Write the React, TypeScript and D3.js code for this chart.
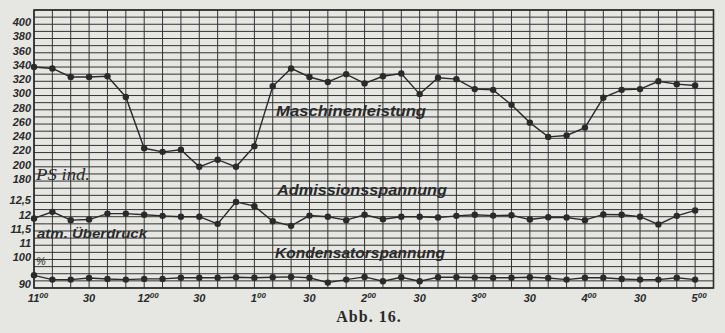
import React from "react";
import * as d3 from "d3";

// Time of each reading (every 10 minutes, 11:00 to 5:00)
const times = [
  "11:00","11:10","11:20","11:30","11:40","11:50",
  "12:00","12:10","12:20","12:30","12:40","12:50",
  "1:00","1:10","1:20","1:30","1:40","1:50",
  "2:00","2:10","2:20","2:30","2:40","2:50",
  "3:00","3:10","3:20","3:30","3:40","3:50",
  "4:00","4:10","4:20","4:30","4:40","4:50",
  "5:00",
];

// Maschinenleistung (PS ind.)
const leistung = [
  340, 338, 326, 326, 327, 298, 226, 221, 224, 200, 210, 200, 229,
  313, 338, 326, 319, 330, 317, 327, 331, 302, 325, 323, 309, 308,
  287, 262, 242, 244, 255, 297, 308, 309, 320, 316, 314,
];

// Admissionsspannung (atm. Überdruck)
const admission = [
  11.94, 12.17, 11.88, 11.9, 12.11, 12.11, 12.07, 12.03, 12.0, 12.0,
  11.75, 12.52, 12.37, 11.84, 11.68, 12.04, 12.0, 11.88, 12.07, 11.91,
  12.0, 12.0, 11.97, 12.03, 12.07, 12.04, 12.05, 11.9, 11.98, 11.97,
  11.88, 12.08, 12.07, 12.0, 11.73, 12.03, 12.22,
];

// Kondensatorspannung (%)
const kondensator = [
  94.45, 92.95, 92.95, 93.5, 93.15, 92.95, 93.2, 93.2, 93.6, 93.6,
  93.6, 93.75, 93.6, 93.75, 93.9, 93.6, 91.9, 92.95, 93.9, 92.35,
  93.75, 92.35, 93.75, 93.75, 93.7, 93.6, 93.6, 93.75, 93.5, 92.95,
  93.6, 93.6, 93.15, 92.95, 92.95, 93.6, 92.95,
];

// Axis tick labels
const psTicks = [400, 380, 360, 340, 320, 300, 280, 260, 240, 220, 200, 180];
const atmTicks = [12.5, 12, 11.5, 11];
const pctTicks = [100, 90];
const xTickTimes = ["11:00","11:30","12:00","12:30","1:00","1:30","2:00","2:30","3:00","3:30","4:00","4:30","5:00"];
const xTickMain = ["11","30","12","30","1","30","2","30","3","30","4","30","5"];
const xTickSup = ["00","","00","","00","","00","","00","","00","","00"];

const W = 725;
const H = 333;
const ink = "#2a2a2a";
const paper = "#e6e6e3";

function toMinutes(t: string): number {
  const [h, m] = t.split(":").map(Number);
  const hh = h >= 11 ? h - 11 : h + 1;
  return hh * 60 + m;
}

export default function App() {
  const left = 34;
  const right = 713.5;
  const top = 10;
  const bottom = 288;
  const nRows = 39;

  const x = d3.scaleLinear().domain([0, 370]).range([left, right]);
  const row = d3.scaleLinear().domain([0, nRows]).range([top, bottom]);
  const yPS = d3.scaleLinear().domain([400, 180]).range([row(2), row(24)]);
  const yAtm = d3.scaleLinear().domain([12.5, 11]).range([row(27), row(33)]);
  const yPct = d3.scaleLinear().domain([100, 90]).range([row(35), row(39)]);

  const mins = times.map(toMinutes);
  const series = [
    { vals: leistung, y: yPS },
    { vals: admission, y: yAtm },
    { vals: kondensator, y: yPct },
  ];

  const vLines = d3.range(0, 371, 10);
  const hLines = d3.range(0, nRows + 1);

  const labelFont = "'Liberation Sans', 'DejaVu Sans', sans-serif";

  return (
    <svg
      width={W}
      height={H}
      viewBox={`0 0 ${W} ${H}`}
      style={{ position: "absolute", left: 0, top: 0, background: paper }}
    >
      <rect x={0} y={0} width={W} height={H} fill={paper} />
      {/* grid */}
      <g stroke="#333" strokeWidth={1}>
        {vLines.map((m) => (
          <line key={"v" + m} x1={x(m)} x2={x(m)} y1={top} y2={bottom} />
        ))}
        {hLines.map((r) => (
          <line key={"h" + r} x1={left} x2={right} y1={row(r)} y2={row(r)} />
        ))}
      </g>
      <rect x={left} y={top} width={right - left} height={bottom - top} fill="none" stroke={ink} strokeWidth={1.6} />

      {/* series */}
      {series.map((s, si) => {
        const line = d3
          .line<number>()
          .x((_, i) => x(mins[i]))
          .y((v) => s.y(v));
        return (
          <g key={"s" + si}>
            <path d={line(s.vals) || ""} fill="none" stroke={ink} strokeWidth={1.4} />
            {s.vals.map((v, i) => (
              <circle key={i} cx={x(mins[i])} cy={s.y(v)} r={3.2} fill={ink} />
            ))}
          </g>
        );
      })}

      {/* y labels */}
      <g fontFamily={labelFont} fontStyle="italic" fontWeight="bold" fontSize={11} fill={ink} textAnchor="end">
        {psTicks.map((t) => (
          <text key={"p" + t} x={31} y={yPS(t) - 1} dominantBaseline="middle">{t}</text>
        ))}
        {atmTicks.map((t) => (
          <text key={"a" + t} x={31} y={yAtm(t) - 1} dominantBaseline="middle">{String(t).replace(".", ",")}</text>
        ))}
        {pctTicks.map((t, i) => (
          <text key={"c" + t} x={31} y={yPct(t) - (i === 1 ? 3 : 1)} dominantBaseline="middle">{t}</text>
        ))}
      </g>
      <text x={36} y={265} fontFamily={labelFont} fontStyle="italic" fontSize={11} fill={ink}>%</text>

      {/* x labels */}
      <g fontFamily={labelFont} fontStyle="italic" fontWeight="bold" fontSize={11} fill={ink}>
        {xTickTimes.map((t, i) => (
          <text key={"x" + t} x={x(toMinutes(t)) + (xTickSup[i] ? 4 : 0)} y={302} textAnchor="middle">
            {xTickMain[i]}
            {xTickSup[i] ? (
              <tspan dy={-4} fontSize={8}>{xTickSup[i]}</tspan>
            ) : null}
          </text>
        ))}
      </g>

      {/* annotations */}
      <g fontFamily={labelFont} fontStyle="italic" fontWeight="bold" fill={ink}>
        <text x={276} y={116} fontSize={14} textLength={150} lengthAdjust="spacingAndGlyphs">Maschinenleistung</text>
        <text x={277} y={195} fontSize={14} textLength={170} lengthAdjust="spacingAndGlyphs">Admissionsspannung</text>
        <text x={275} y={258} fontSize={14} textLength={170} lengthAdjust="spacingAndGlyphs">Kondensatorspannung</text>
        <text x={36} y={180} fontSize={17} fontWeight="normal" fontFamily="'Liberation Serif', serif" textLength={54} lengthAdjust="spacingAndGlyphs">PS ind.</text>
        <text x={37} y={238} fontSize={13} textLength={110} lengthAdjust="spacingAndGlyphs">atm. Überdruck</text>
      </g>
      <text x={369} y={322} textAnchor="middle" fontFamily="'Liberation Serif', serif" fontWeight="bold" fontSize={16} fill={ink} letterSpacing={1}>Abb. 16.</text>
    </svg>
  );
}
